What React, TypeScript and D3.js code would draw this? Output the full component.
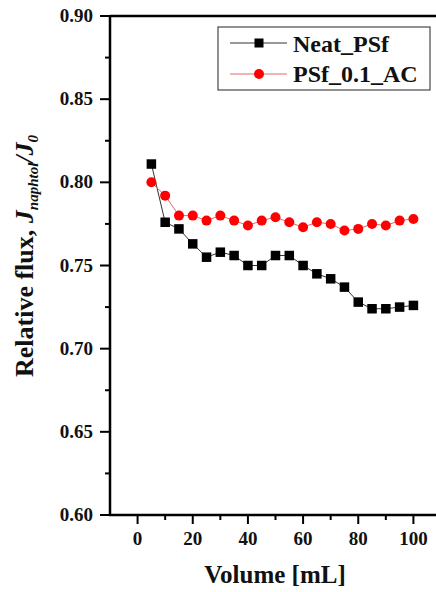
import React from 'react';
import * as d3 from 'd3';

// volumes in mL
const volumes = [5, 10, 15, 20, 25, 30, 35, 40, 45, 50, 55, 60, 65, 70, 75, 80, 85, 90, 95, 100];
const neatPSf = [0.811, 0.776, 0.772, 0.763, 0.755, 0.758, 0.756, 0.750, 0.750, 0.756, 0.756, 0.750, 0.745, 0.742, 0.737, 0.728, 0.724, 0.724, 0.725, 0.726];
const psfAC = [0.800, 0.792, 0.780, 0.780, 0.777, 0.780, 0.777, 0.774, 0.777, 0.779, 0.776, 0.773, 0.776, 0.775, 0.771, 0.772, 0.775, 0.774, 0.777, 0.778];
const xTicks = [0, 20, 40, 60, 80, 100];
const xMinor = [10, 30, 50, 70, 90];
const yTicks = [0.60, 0.65, 0.70, 0.75, 0.80, 0.85, 0.90];
const yMinor = [0.625, 0.675, 0.725, 0.775, 0.825, 0.875];
const seriesNames = ['Neat_PSf', 'PSf_0.1_AC'];

const W = 436;
const H = 592;
const txt = { fontFamily: 'Liberation Serif, serif', fontWeight: 700 as const, fill: '#111' };

export default function App() {
  const x = d3.scaleLinear().domain([-10, 110]).range([110, 441]);
  const y = d3.scaleLinear().domain([0.6, 0.9]).range([515, 16]);

  const line = d3.line<number>()
    .x((_, i) => x(volumes[i]))
    .y(d => y(d));

  return (
    <svg width={W} height={H} style={{ position: 'absolute', left: 0, top: 0, background: '#fff' }}>
      <rect width={W} height={H} fill="#fff" />

      {/* series lines */}
      <path d={line(neatPSf) ?? ''} fill="none" stroke="#333" strokeWidth={1} />
      <path d={line(psfAC) ?? ''} fill="none" stroke="#e06b6b" strokeWidth={1} />

      {neatPSf.map((v, i) => (
        <rect key={'s' + i} x={x(volumes[i]) - 4.75} y={y(v) - 4.75} width={9.5} height={9.5} fill="#000" />
      ))}
      {psfAC.map((v, i) => (
        <circle key={'c' + i} cx={x(volumes[i])} cy={y(v)} r={5} fill="#ff0000" />
      ))}

      {/* frame */}
      <line x1={x(-10)} x2={W} y1={y(0.9)} y2={y(0.9)} stroke="#000" strokeWidth={2.5} />
      <line x1={x(-10)} x2={x(-10)} y1={y(0.9) - 1} y2={y(0.6) + 1} stroke="#000" strokeWidth={2.5} />
      <line x1={x(-10) - 1} x2={W} y1={y(0.6)} y2={y(0.6)} stroke="#000" strokeWidth={2.5} />

      {/* y ticks */}
      {yTicks.map(t => (
        <g key={'yt' + t}>
          <line x1={x(-10) - 10} x2={x(-10)} y1={y(t)} y2={y(t)} stroke="#000" strokeWidth={2} />
          <text x={93} y={y(t) + 6} textAnchor="end" style={{ ...txt, fontSize: 19 }}>
            {t.toFixed(2)}
          </text>
        </g>
      ))}
      {yMinor.map(t => (
        <line key={'ym' + t} x1={x(-10) - 5} x2={x(-10)} y1={y(t)} y2={y(t)} stroke="#000" strokeWidth={2} />
      ))}

      {/* x ticks */}
      {xTicks.map(t => (
        <g key={'xt' + t}>
          <line x1={x(t)} x2={x(t)} y1={y(0.6)} y2={y(0.6) + 9} stroke="#000" strokeWidth={2} />
          <text x={x(t)} y={545} textAnchor="middle" style={{ ...txt, fontSize: 19 }}>
            {t}
          </text>
        </g>
      ))}
      {xMinor.map(t => (
        <line key={'xm' + t} x1={x(t)} x2={x(t)} y1={y(0.6)} y2={y(0.6) + 5} stroke="#000" strokeWidth={2} />
      ))}

      {/* axis titles */}
      <text x={275} y={583} textAnchor="middle" style={{ ...txt, fontSize: 25 }}>
        Volume [mL]
      </text>
      <text transform="translate(33,377) rotate(-90)" style={{ ...txt, fontSize: 26 }}>
        Relative flux,{' '}
        <tspan fontStyle="italic">J</tspan>
        <tspan fontStyle="italic" fontSize={15} dy={5}>naphtol</tspan>
        <tspan fontStyle="italic" dy={-5}>/J</tspan>
        <tspan fontStyle="italic" fontSize={15} dy={5}>0</tspan>
      </text>

      {/* legend */}
      <rect x={218} y={27} width={212} height={63} fill="#fff" stroke="#222" strokeWidth={1} />
      <line x1={230} x2={287} y1={43} y2={43} stroke="#333" strokeWidth={1} />
      <rect x={254.5} y={38.5} width={9} height={9} fill="#000" />
      <text x={293} y={52} style={{ ...txt, fontSize: 24 }}>{seriesNames[0]}</text>
      <line x1={230} x2={287} y1={74} y2={74} stroke="#e06b6b" strokeWidth={1} />
      <circle cx={259} cy={74} r={5} fill="#ff0000" />
      <text x={293} y={82} style={{ ...txt, fontSize: 24 }}>{seriesNames[1]}</text>
    </svg>
  );
}
